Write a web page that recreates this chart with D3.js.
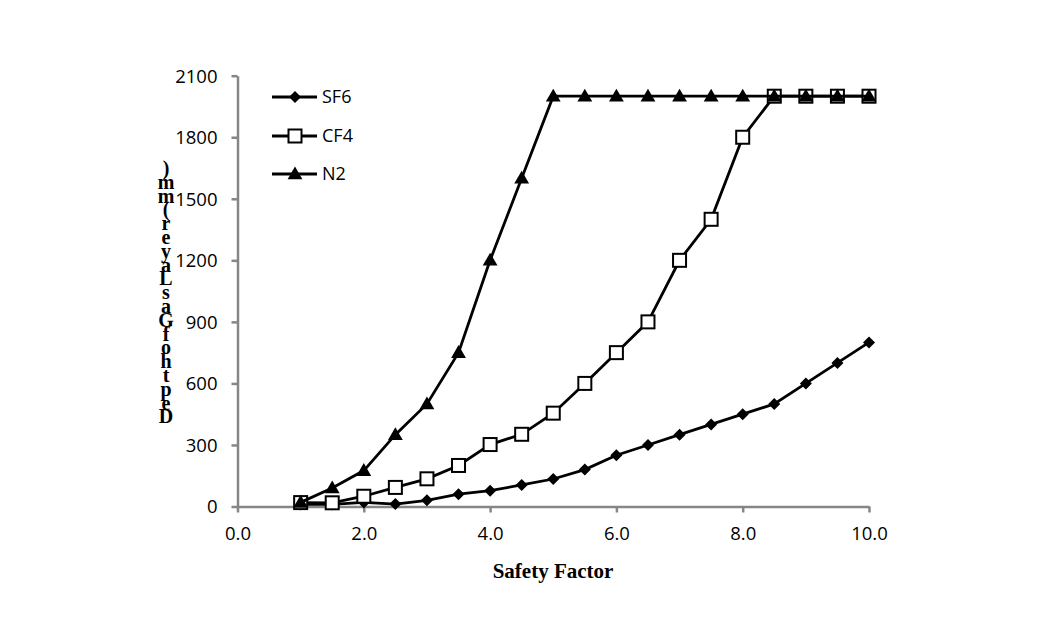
<!DOCTYPE html>
<html><head><meta charset="utf-8">
<script src="https://cdn.jsdelivr.net/npm/d3@7"></script>
<style>body{margin:0;background:#fff}</style>
</head><body>
<svg id="c" width="1039" height="624"></svg>
<script>
const safetyFactor = [1,1.5,2,2.5,3,3.5,4,4.5,5,5.5,6,6.5,7,7.5,8,8.5,9,9.5,10];
const sf6 = [10,10,20,12,30,60,77,105,134,180,250,300,350,400,450,500,600,700,800];
const cf4 = [19,18,50,93,135,200,302,352,455,600,750,900,1200,1400,1800,2000,2000,2000,2000];
const n2  = [20,90,175,350,500,750,1200,1600,2000,2000,2000,2000,2000,2000,2000,2000,2000,2000,2000];
const seriesNames = ["SF6","CF4","N2"];
const xTicks = [0,2,4,6,8,10];
const yTicks = [0,300,600,900,1200,1500,1800,2100];
const xTitle = "Safety Factor";
const yTitle = "Depth of Gas Layer (mm)";

const svg = d3.select("#c");
const x = d3.scaleLinear().domain([0,10]).range([237.5,869]);
const y = d3.scaleLinear().domain([0,2100]).range([506.5,75.7]);
const axisColor = "#868686";
const tickFont = "'Open Sans', 'Noto Sans', sans-serif";

const xAxis = svg.append("g").attr("transform",`translate(0,${y(0)})`)
  .call(d3.axisBottom(x).tickValues(xTicks).tickFormat(d3.format(".1f")).tickSize(6).tickSizeOuter(0));
const yAxis = svg.append("g").attr("transform",`translate(${x(0)},0)`)
  .call(d3.axisLeft(y).tickValues(yTicks).tickFormat(d3.format("d")).tickSize(6).tickSizeOuter(0));
[xAxis,yAxis].forEach(a=>{
  a.select(".domain").attr("stroke",axisColor).attr("stroke-width",2.5);
  a.selectAll(".tick line").attr("stroke",axisColor).attr("stroke-width",2.5);
  a.selectAll("text").attr("fill","#000").style("font-family",tickFont).style("font-size","18.5px");
});
xAxis.selectAll("text").attr("dy","1.3em");
yAxis.selectAll("text").attr("x",-20).attr("dy","0.35em");

svg.append("text").attr("x",553).attr("y",578).attr("text-anchor","middle")
  .style("font-family","'Liberation Serif', serif").style("font-weight","bold").style("font-size","21px")
  .text(xTitle);

// stacked reversed y title, upright characters, as one vertical text
const stacked = Array.from(yTitle).reverse().filter(c=>c!==" ").join("");
svg.append("text").attr("x",166).attr("y",157)
  .style("font-family","'Liberation Serif', serif").style("font-weight","bold").style("font-size","20px")
  .style("writing-mode","vertical-rl").style("text-orientation","upright")
  .style("letter-spacing","-8.2px")
  .text(stacked);

const data = [sf6,cf4,n2];
const line = d3.line().x((d,i)=>x(safetyFactor[i])).y(d=>y(d));
const tri = d3.symbol().type(d3.symbolTriangle).size(95);

function marker(g, k, cx, cy){
  if(k===0){
    g.append("path").attr("d", d3.symbol().type(d3.symbolSquare).size(72)()).attr("transform",`translate(${cx},${cy}) rotate(45)`).attr("fill","#000");
  } else if(k===1){
    g.append("rect").attr("x",cx-6.5).attr("y",cy-6.5).attr("width",13).attr("height",13).attr("fill","#fff").attr("stroke","#000").attr("stroke-width",2);
  } else {
    g.append("path").attr("d", tri()).attr("transform",`translate(${cx},${cy+1})`).attr("fill","#000");
  }
}

data.forEach((vals,k)=>{
  const g = svg.append("g");
  g.append("path").datum(vals).attr("d",line).attr("fill","none").attr("stroke","#000").attr("stroke-width",2.8);
  vals.forEach((v,i)=>marker(g,k,x(safetyFactor[i]),y(v)));
});

// legend
const ly = [97,136,174];
seriesNames.forEach((n,k)=>{
  const g = svg.append("g");
  g.append("line").attr("x1",272).attr("x2",317).attr("y1",ly[k]).attr("y2",ly[k]).attr("stroke","#000").attr("stroke-width",2.8);
  marker(g,k,295,ly[k]);
  g.append("text").attr("x",322).attr("y",ly[k]).attr("dy","0.36em")
    .style("font-family",tickFont).style("font-size","18px").text(n);
});
</script>
</body></html>
